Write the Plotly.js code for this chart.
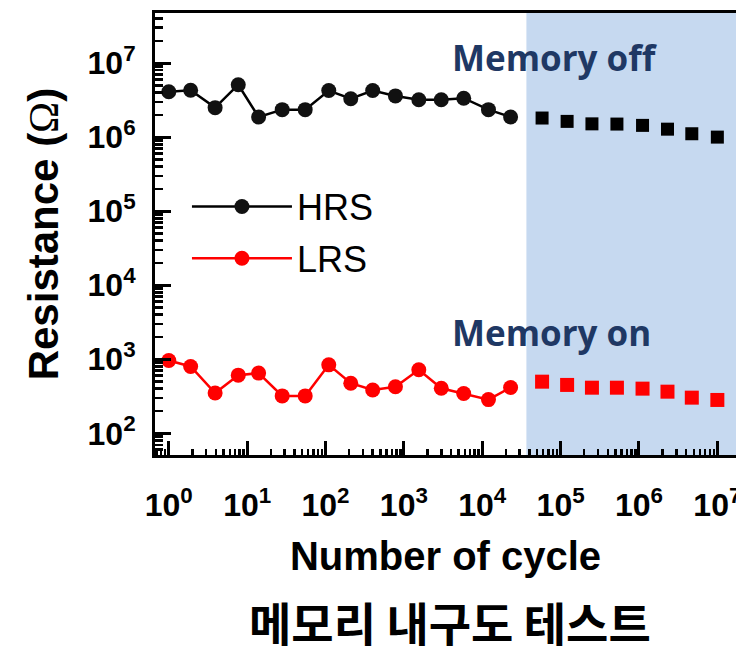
<!DOCTYPE html>
<html><head><meta charset="utf-8">
<script src="https://cdn.plot.ly/plotly-3.0.1.min.js"></script>
<style>html,body{margin:0;padding:0;background:#fff;overflow:hidden}</style>
</head><body><div id="chart" style="width:736px;height:646px"></div>
<script>
// Measured cycles (circles)
const cycles = [1, 1.9, 3.9, 7.7, 14, 28, 55, 110, 210, 400, 780, 1550, 3000, 5800, 12000, 23000];
const hrs = [4.1e6, 4.3e6, 2.5e6, 5.1e6, 1.87e6, 2.35e6, 2.35e6, 4.25e6, 3.3e6, 4.25e6, 3.6e6, 3.2e6, 3.2e6, 3.35e6, 2.35e6, 1.87e6];
const lrs = [960, 800, 350, 610, 650, 320, 320, 840, 475, 385, 425, 720, 405, 345, 285, 415];
// Extrapolated region (squares)
const memCycles = [58000, 121000, 251000, 523000, 1.11e6, 2.31e6, 4.72e6, 1.0e7];
const memHrs = [1.81e6, 1.63e6, 1.51e6, 1.50e6, 1.44e6, 1.28e6, 1.11e6, 1.0e6];
const memLrs = [498, 450, 413, 413, 401, 365, 303, 282];
const memStart = 36600;
// Tick labels
const xTickVals = [1, 10, 100, 1e3, 1e4, 1e5, 1e6, 1e7];
const xTickText = ['10<sup>0</sup>','10<sup>1</sup>','10<sup>2</sup>','10<sup>3</sup>','10<sup>4</sup>','10<sup>5</sup>','10<sup>6</sup>','10<sup>7</sup>'];
const yTickVals = [1e2, 1e3, 1e4, 1e5, 1e6, 1e7];
const yTickText = ['10<sup>2</sup>','10<sup>3</sup>','10<sup>4</sup>','10<sup>5</sup>','10<sup>6</sup>','10<sup>7</sup>'];
const seriesNames = ['HRS', 'LRS'];
const labelOff = 'Memory off';
const labelOn = 'Memory on';
const xTitle = 'Number of cycle';
const yTitle = 'Resistance (<span style="font-family:Liberation Serif;font-weight:normal">Ω</span>)';
const caption = '메모리 내구도 테스트';

const minorVals = [];
for (let e = -1; e <= 8; e++) for (let d = 2; d <= 9; d++) minorVals.push(d * Math.pow(10, e));

const tickFont = {family: 'Liberation Sans, Arial, sans-serif', size: 32, weight: 'bold', color: '#000'};
const titleFont = {family: 'Liberation Sans, Arial, sans-serif', size: 40, weight: 'bold', color: '#000'};
const navy = '#1f3864';

const traces = [
  {x: cycles, y: hrs, name: seriesNames[0], mode: 'lines+markers', legendgroup: 'a',
   line: {color: '#000', width: 2.5}, marker: {symbol: 'circle', size: 15, color: '#111'}},
  {x: cycles, y: lrs, name: seriesNames[1], mode: 'lines+markers', legendgroup: 'b',
   line: {color: '#ff0000', width: 2.5}, marker: {symbol: 'circle', size: 15, color: '#ff0000'}},
  {x: memCycles, y: memHrs, mode: 'markers', showlegend: false,
   marker: {symbol: 'square', size: 13, color: '#000'}},
  {x: memCycles, y: memLrs, mode: 'markers', showlegend: false,
   marker: {symbol: 'square', size: 14, color: '#ff0000'}}
];

const layout = {
  width: 736, height: 646,
  margin: {l: 155, r: 0, t: 13, b: 191},
  paper_bgcolor: '#fff', plot_bgcolor: '#fff',
  xaxis: {
    type: 'log', range: [-0.176, 7.238], tickmode: 'array', tickvals: xTickVals, ticktext: xTickText,
    ticks: 'inside', ticklen: 14, tickwidth: 3, tickcolor: '#000',
    showline: true, linewidth: 3, linecolor: '#000', mirror: true,
    showgrid: false, zeroline: false, tickfont: tickFont, ticklabelstandoff: 20, ticklabeloverflow: 'allow',
    minor: {tickmode: 'array', tickvals: minorVals, ticks: 'inside', ticklen: 6, tickwidth: 2.5, tickcolor: '#000', showgrid: false},
    title: {text: xTitle, font: titleFont, standoff: 20}, automargin: false
  },
  yaxis: {
    type: 'log', range: [1.707, 7.676], tickmode: 'array', tickvals: yTickVals, ticktext: yTickText,
    ticks: 'inside', ticklen: 16, tickwidth: 3, tickcolor: '#000',
    showline: true, linewidth: 3, linecolor: '#000', mirror: false,
    showgrid: false, zeroline: false, tickfont: tickFont, ticklabelstandoff: 10, ticklabeloverflow: 'allow',
    minor: {tickmode: 'array', tickvals: minorVals, ticks: 'inside', ticklen: 8, tickwidth: 2.5, tickcolor: '#000', showgrid: false},
    title: {text: yTitle, font: {family: titleFont.family, size: 42, weight: 'bold', color: '#000'}, standoff: 16}, automargin: false
  },
  shapes: [{type: 'rect', xref: 'x', yref: 'paper', x0: memStart, x1: 1e9, y0: 0, y1: 1,
            fillcolor: '#c6d9f0', line: {width: 0}, layer: 'below'}],
  legend: {x: 0.055, y: 0.63, xanchor: 'left', yanchor: 'top', bgcolor: 'rgba(0,0,0,0)',
           font: {family: 'Liberation Sans, Arial, sans-serif', size: 36, color: '#000'},
           itemwidth: 100, tracegroupgap: 2, traceorder: 'grouped'},
  annotations: [
    {text: labelOff, xref: 'paper', yref: 'paper', x: 0.508, y: 0.9, xanchor: 'left', yanchor: 'middle', showarrow: false,
     font: {family: 'Open Sans, sans-serif', size: 35, weight: 'bold', color: navy}},
    {text: labelOn, xref: 'paper', yref: 'paper', x: 0.508, y: 0.277, xanchor: 'left', yanchor: 'middle', showarrow: false,
     font: {family: 'Open Sans, sans-serif', size: 35, weight: 'bold', color: navy}},
    {text: caption, xref: 'paper', yref: 'paper', x: 0.507, y: -0.375, xanchor: 'center', yanchor: 'middle', showarrow: false,
     font: {family: 'Noto Sans CJK KR, sans-serif', size: 46, weight: 'bold', color: '#000'}}
  ]
};

Plotly.newPlot('chart', traces, layout, {staticPlot: true, displayModeBar: false});
</script></body></html>
